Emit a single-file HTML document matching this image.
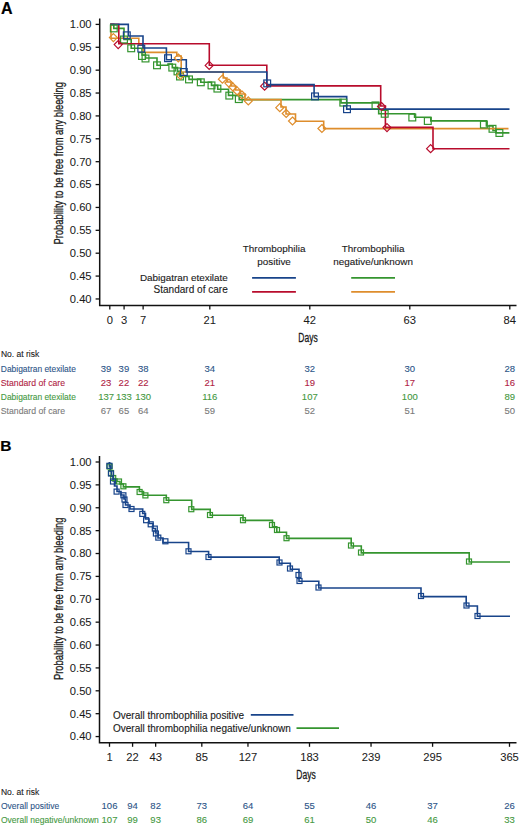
<!DOCTYPE html><html><head><meta charset="utf-8"><style>html,body{margin:0;padding:0;background:#fff;width:520px;height:825px;overflow:hidden}svg{display:block}text{font-family:"Liberation Sans", sans-serif}</style></head><body>
<svg width="520" height="825" viewBox="0 0 520 825">
<rect width="520" height="825" fill="#fff"/>
<text transform="translate(0.90,13.60)" font-size="16" fill="#000" text-anchor="start" font-weight="bold" stroke="#000" stroke-width="0.2" >A</text>
<path d="M99.7,18.4 V305.6 H516.5" fill="none" stroke="#111" stroke-width="1.5"/>
<line x1="95.6" y1="24.40" x2="99.7" y2="24.40" stroke="#111" stroke-width="1.3"/>
<text transform="translate(91.60,28.30) scale(1.12,1)" font-size="10" fill="#1a1a1a" text-anchor="end" font-weight="normal" stroke="#1a1a1a" stroke-width="0.05" >1.00</text>
<line x1="95.6" y1="47.28" x2="99.7" y2="47.28" stroke="#111" stroke-width="1.3"/>
<text transform="translate(91.60,51.18) scale(1.12,1)" font-size="10" fill="#1a1a1a" text-anchor="end" font-weight="normal" stroke="#1a1a1a" stroke-width="0.05" >0.95</text>
<line x1="95.6" y1="70.16" x2="99.7" y2="70.16" stroke="#111" stroke-width="1.3"/>
<text transform="translate(91.60,74.06) scale(1.12,1)" font-size="10" fill="#1a1a1a" text-anchor="end" font-weight="normal" stroke="#1a1a1a" stroke-width="0.05" >0.90</text>
<line x1="95.6" y1="93.04" x2="99.7" y2="93.04" stroke="#111" stroke-width="1.3"/>
<text transform="translate(91.60,96.94) scale(1.12,1)" font-size="10" fill="#1a1a1a" text-anchor="end" font-weight="normal" stroke="#1a1a1a" stroke-width="0.05" >0.85</text>
<line x1="95.6" y1="115.92" x2="99.7" y2="115.92" stroke="#111" stroke-width="1.3"/>
<text transform="translate(91.60,119.82) scale(1.12,1)" font-size="10" fill="#1a1a1a" text-anchor="end" font-weight="normal" stroke="#1a1a1a" stroke-width="0.05" >0.80</text>
<line x1="95.6" y1="138.80" x2="99.7" y2="138.80" stroke="#111" stroke-width="1.3"/>
<text transform="translate(91.60,142.70) scale(1.12,1)" font-size="10" fill="#1a1a1a" text-anchor="end" font-weight="normal" stroke="#1a1a1a" stroke-width="0.05" >0.75</text>
<line x1="95.6" y1="161.68" x2="99.7" y2="161.68" stroke="#111" stroke-width="1.3"/>
<text transform="translate(91.60,165.58) scale(1.12,1)" font-size="10" fill="#1a1a1a" text-anchor="end" font-weight="normal" stroke="#1a1a1a" stroke-width="0.05" >0.70</text>
<line x1="95.6" y1="184.56" x2="99.7" y2="184.56" stroke="#111" stroke-width="1.3"/>
<text transform="translate(91.60,188.46) scale(1.12,1)" font-size="10" fill="#1a1a1a" text-anchor="end" font-weight="normal" stroke="#1a1a1a" stroke-width="0.05" >0.65</text>
<line x1="95.6" y1="207.44" x2="99.7" y2="207.44" stroke="#111" stroke-width="1.3"/>
<text transform="translate(91.60,211.34) scale(1.12,1)" font-size="10" fill="#1a1a1a" text-anchor="end" font-weight="normal" stroke="#1a1a1a" stroke-width="0.05" >0.60</text>
<line x1="95.6" y1="230.32" x2="99.7" y2="230.32" stroke="#111" stroke-width="1.3"/>
<text transform="translate(91.60,234.22) scale(1.12,1)" font-size="10" fill="#1a1a1a" text-anchor="end" font-weight="normal" stroke="#1a1a1a" stroke-width="0.05" >0.55</text>
<line x1="95.6" y1="253.20" x2="99.7" y2="253.20" stroke="#111" stroke-width="1.3"/>
<text transform="translate(91.60,257.10) scale(1.12,1)" font-size="10" fill="#1a1a1a" text-anchor="end" font-weight="normal" stroke="#1a1a1a" stroke-width="0.05" >0.50</text>
<line x1="95.6" y1="276.08" x2="99.7" y2="276.08" stroke="#111" stroke-width="1.3"/>
<text transform="translate(91.60,279.98) scale(1.12,1)" font-size="10" fill="#1a1a1a" text-anchor="end" font-weight="normal" stroke="#1a1a1a" stroke-width="0.05" >0.45</text>
<line x1="95.6" y1="298.96" x2="99.7" y2="298.96" stroke="#111" stroke-width="1.3"/>
<text transform="translate(91.60,302.86) scale(1.12,1)" font-size="10" fill="#1a1a1a" text-anchor="end" font-weight="normal" stroke="#1a1a1a" stroke-width="0.05" >0.40</text>
<line x1="109.80" y1="305.6" x2="109.80" y2="309.6" stroke="#111" stroke-width="1.3"/>
<text transform="translate(109.80,323.70) scale(1.12,1)" font-size="10" fill="#1a1a1a" text-anchor="middle" font-weight="normal" stroke="#1a1a1a" stroke-width="0.05" >0</text>
<line x1="124.09" y1="305.6" x2="124.09" y2="309.6" stroke="#111" stroke-width="1.3"/>
<text transform="translate(124.09,323.70) scale(1.12,1)" font-size="10" fill="#1a1a1a" text-anchor="middle" font-weight="normal" stroke="#1a1a1a" stroke-width="0.05" >3</text>
<line x1="143.13" y1="305.6" x2="143.13" y2="309.6" stroke="#111" stroke-width="1.3"/>
<text transform="translate(143.13,323.70) scale(1.12,1)" font-size="10" fill="#1a1a1a" text-anchor="middle" font-weight="normal" stroke="#1a1a1a" stroke-width="0.05" >7</text>
<line x1="209.80" y1="305.6" x2="209.80" y2="309.6" stroke="#111" stroke-width="1.3"/>
<text transform="translate(209.80,323.70) scale(1.12,1)" font-size="10" fill="#1a1a1a" text-anchor="middle" font-weight="normal" stroke="#1a1a1a" stroke-width="0.05" >21</text>
<line x1="309.80" y1="305.6" x2="309.80" y2="309.6" stroke="#111" stroke-width="1.3"/>
<text transform="translate(309.80,323.70) scale(1.12,1)" font-size="10" fill="#1a1a1a" text-anchor="middle" font-weight="normal" stroke="#1a1a1a" stroke-width="0.05" >42</text>
<line x1="409.80" y1="305.6" x2="409.80" y2="309.6" stroke="#111" stroke-width="1.3"/>
<text transform="translate(409.80,323.70) scale(1.12,1)" font-size="10" fill="#1a1a1a" text-anchor="middle" font-weight="normal" stroke="#1a1a1a" stroke-width="0.05" >63</text>
<line x1="509.80" y1="305.6" x2="509.80" y2="309.6" stroke="#111" stroke-width="1.3"/>
<text transform="translate(509.80,323.70) scale(1.12,1)" font-size="10" fill="#1a1a1a" text-anchor="middle" font-weight="normal" stroke="#1a1a1a" stroke-width="0.05" >84</text>
<text transform="translate(308.00,341.60)" font-size="12.5" fill="#1a1a1a" text-anchor="middle" font-weight="normal" textLength="19.40" lengthAdjust="spacingAndGlyphs" stroke="#1a1a1a" stroke-width="0.3" >Days</text>
<text transform="translate(62.80,244.40) rotate(-90)" font-size="12.5" fill="#1a1a1a" text-anchor="start" font-weight="normal" textLength="162.40" lengthAdjust="spacingAndGlyphs" stroke="#1a1a1a" stroke-width="0.3" >Probability to be free from any bleeding</text>
<text transform="translate(274.10,252.20)" font-size="9.9" fill="#1a1a1a" text-anchor="middle" font-weight="normal" stroke="#1a1a1a" stroke-width="0.12" >Thrombophilia</text>
<text transform="translate(274.10,264.50)" font-size="9.9" fill="#1a1a1a" text-anchor="middle" font-weight="normal" stroke="#1a1a1a" stroke-width="0.12" >positive</text>
<text transform="translate(373.10,252.20)" font-size="9.9" fill="#1a1a1a" text-anchor="middle" font-weight="normal" stroke="#1a1a1a" stroke-width="0.12" >Thrombophilia</text>
<text transform="translate(373.10,264.50)" font-size="9.9" fill="#1a1a1a" text-anchor="middle" font-weight="normal" stroke="#1a1a1a" stroke-width="0.12" >negative/unknown</text>
<text transform="translate(227.80,281.20)" font-size="9.9" fill="#1a1a1a" text-anchor="end" font-weight="normal" stroke="#1a1a1a" stroke-width="0.12" >Dabigatran etexilate</text>
<text transform="translate(227.80,292.50)" font-size="10.05" fill="#1a1a1a" text-anchor="end" font-weight="normal" stroke="#1a1a1a" stroke-width="0.12" >Standard of care</text>
<line x1="252.1" y1="277.8" x2="295.9" y2="277.8" stroke="#18448a" stroke-width="1.7"/>
<line x1="252.1" y1="291.8" x2="295.9" y2="291.8" stroke="#b80c2c" stroke-width="1.7"/>
<line x1="351.2" y1="277.9" x2="395.0" y2="277.9" stroke="#35952f" stroke-width="1.7"/>
<line x1="351.2" y1="291.9" x2="395.0" y2="291.9" stroke="#de8d2c" stroke-width="1.7"/>
<path d="M110.2,24.4 H113.8 V28.4 H124 V39.5 H131.2 V48.3 H142 V55 H145.5 V58 H157 V65.3 H168 V64 H172.3 V67.6 H177.5 V71.4 H180 V76.5 H189 V79.4 H200.8 V82.3 H211.5 V85.4 H217.7 V89.2 H228.5 V95.4 H239.2 V99.6 H341 V102.9 H378.7 V113.8 H414.6 V117.3 H430.8 V120.9 H486.4 V126 H493 V130.5 H496 V132.9 H509.4" fill="none" stroke="#35952f" stroke-width="1.6" stroke-linejoin="miter"/>
<path d="M110.2,24.4 H111 V38.3 H138.8 V45 H143.5 V52.4 H176.8 V56 H181.2 V72 H223.2 V78 H227 V82 H231 V86 H235.5 V90 H240 V94 H245 V99.6 H281 V107 H286 V114 H295.5 V121.3 H323.7 V128.6 H508.5" fill="none" stroke="#de8d2c" stroke-width="1.6" stroke-linejoin="miter"/>
<path d="M110.2,24.4 H118.8 V43.8 H209.3 V65.2 H266.8 V85.9 H380.7 V106 H385.4 V127.4 H433 V148.8 H509.5" fill="none" stroke="#b80c2c" stroke-width="1.6" stroke-linejoin="miter"/>
<path d="M110.2,24.4 H128.3 V36.0 H143.0 V48.0 H166.4 V59.8 H186.3 V72.0 H266.8 V84.6 H314.1 V96.6 H346.7 V109.1 H509.5" fill="none" stroke="#18448a" stroke-width="1.6" stroke-linejoin="miter"/>
<rect x="110.40" y="25.00" width="6.80" height="6.80" fill="none" stroke="#35952f" stroke-width="1.2"/>
<rect x="120.60" y="36.10" width="6.80" height="6.80" fill="none" stroke="#35952f" stroke-width="1.2"/>
<rect x="127.80" y="44.90" width="6.80" height="6.80" fill="none" stroke="#35952f" stroke-width="1.2"/>
<rect x="138.60" y="52.60" width="6.80" height="6.80" fill="none" stroke="#35952f" stroke-width="1.2"/>
<rect x="142.10" y="55.10" width="6.80" height="6.80" fill="none" stroke="#35952f" stroke-width="1.2"/>
<rect x="153.60" y="61.90" width="6.80" height="6.80" fill="none" stroke="#35952f" stroke-width="1.2"/>
<rect x="168.90" y="64.20" width="6.80" height="6.80" fill="none" stroke="#35952f" stroke-width="1.2"/>
<rect x="174.10" y="68.00" width="6.80" height="6.80" fill="none" stroke="#35952f" stroke-width="1.2"/>
<rect x="176.60" y="73.10" width="6.80" height="6.80" fill="none" stroke="#35952f" stroke-width="1.2"/>
<rect x="185.60" y="76.00" width="6.80" height="6.80" fill="none" stroke="#35952f" stroke-width="1.2"/>
<rect x="197.40" y="78.90" width="6.80" height="6.80" fill="none" stroke="#35952f" stroke-width="1.2"/>
<rect x="208.10" y="82.00" width="6.80" height="6.80" fill="none" stroke="#35952f" stroke-width="1.2"/>
<rect x="214.00" y="85.20" width="6.80" height="6.80" fill="none" stroke="#35952f" stroke-width="1.2"/>
<rect x="225.90" y="92.20" width="6.80" height="6.80" fill="none" stroke="#35952f" stroke-width="1.2"/>
<rect x="235.40" y="95.70" width="6.80" height="6.80" fill="none" stroke="#35952f" stroke-width="1.2"/>
<rect x="339.90" y="99.20" width="6.80" height="6.80" fill="none" stroke="#35952f" stroke-width="1.2"/>
<rect x="372.10" y="102.00" width="6.80" height="6.80" fill="none" stroke="#35952f" stroke-width="1.2"/>
<rect x="381.30" y="110.40" width="6.80" height="6.80" fill="none" stroke="#35952f" stroke-width="1.2"/>
<rect x="408.90" y="114.10" width="6.80" height="6.80" fill="none" stroke="#35952f" stroke-width="1.2"/>
<rect x="424.40" y="117.60" width="6.80" height="6.80" fill="none" stroke="#35952f" stroke-width="1.2"/>
<rect x="480.50" y="121.10" width="6.80" height="6.80" fill="none" stroke="#35952f" stroke-width="1.2"/>
<rect x="489.10" y="125.40" width="6.80" height="6.80" fill="none" stroke="#35952f" stroke-width="1.2"/>
<rect x="496.00" y="129.60" width="6.80" height="6.80" fill="none" stroke="#35952f" stroke-width="1.2"/>
<path d="M113.40,33.60 L117.40,37.60 L113.40,41.60 L109.40,37.60 Z" fill="none" stroke="#de8d2c" stroke-width="1.2"/>
<path d="M178.30,54.00 L182.30,58.00 L178.30,62.00 L174.30,58.00 Z" fill="none" stroke="#de8d2c" stroke-width="1.2"/>
<path d="M180.40,71.40 L184.40,75.40 L180.40,79.40 L176.40,75.40 Z" fill="none" stroke="#de8d2c" stroke-width="1.2"/>
<path d="M222.40,75.20 L226.40,79.20 L222.40,83.20 L218.40,79.20 Z" fill="none" stroke="#de8d2c" stroke-width="1.2"/>
<path d="M228.90,79.10 L232.90,83.10 L228.90,87.10 L224.90,83.10 Z" fill="none" stroke="#de8d2c" stroke-width="1.2"/>
<path d="M232.80,83.00 L236.80,87.00 L232.80,91.00 L228.80,87.00 Z" fill="none" stroke="#de8d2c" stroke-width="1.2"/>
<path d="M237.10,86.90 L241.10,90.90 L237.10,94.90 L233.10,90.90 Z" fill="none" stroke="#de8d2c" stroke-width="1.2"/>
<path d="M242.00,91.00 L246.00,95.00 L242.00,99.00 L238.00,95.00 Z" fill="none" stroke="#de8d2c" stroke-width="1.2"/>
<path d="M248.30,96.90 L252.30,100.90 L248.30,104.90 L244.30,100.90 Z" fill="none" stroke="#de8d2c" stroke-width="1.2"/>
<path d="M279.80,103.70 L283.80,107.70 L279.80,111.70 L275.80,107.70 Z" fill="none" stroke="#de8d2c" stroke-width="1.2"/>
<path d="M286.20,109.50 L290.20,113.50 L286.20,117.50 L282.20,113.50 Z" fill="none" stroke="#de8d2c" stroke-width="1.2"/>
<path d="M292.50,117.00 L296.50,121.00 L292.50,125.00 L288.50,121.00 Z" fill="none" stroke="#de8d2c" stroke-width="1.2"/>
<path d="M321.90,124.50 L325.90,128.50 L321.90,132.50 L317.90,128.50 Z" fill="none" stroke="#de8d2c" stroke-width="1.2"/>
<path d="M118.20,40.60 L122.20,44.60 L118.20,48.60 L114.20,44.60 Z" fill="none" stroke="#b80c2c" stroke-width="1.2"/>
<path d="M209.20,61.40 L213.20,65.40 L209.20,69.40 L205.20,65.40 Z" fill="none" stroke="#b80c2c" stroke-width="1.2"/>
<path d="M264.60,82.20 L268.60,86.20 L264.60,90.20 L260.60,86.20 Z" fill="none" stroke="#b80c2c" stroke-width="1.2"/>
<path d="M381.50,102.50 L385.50,106.50 L381.50,110.50 L377.50,106.50 Z" fill="none" stroke="#b80c2c" stroke-width="1.2"/>
<path d="M387.00,123.60 L391.00,127.60 L387.00,131.60 L383.00,127.60 Z" fill="none" stroke="#b80c2c" stroke-width="1.2"/>
<path d="M430.60,144.70 L434.60,148.70 L430.60,152.70 L426.60,148.70 Z" fill="none" stroke="#b80c2c" stroke-width="1.2"/>
<rect x="123.40" y="31.90" width="6.80" height="6.80" fill="none" stroke="#18448a" stroke-width="1.2"/>
<rect x="137.90" y="45.20" width="6.80" height="6.80" fill="none" stroke="#18448a" stroke-width="1.2"/>
<rect x="164.60" y="54.80" width="6.80" height="6.80" fill="none" stroke="#18448a" stroke-width="1.2"/>
<rect x="180.40" y="68.60" width="6.80" height="6.80" fill="none" stroke="#18448a" stroke-width="1.2"/>
<rect x="263.80" y="80.00" width="6.80" height="6.80" fill="none" stroke="#18448a" stroke-width="1.2"/>
<rect x="311.60" y="93.00" width="6.80" height="6.80" fill="none" stroke="#18448a" stroke-width="1.2"/>
<rect x="343.60" y="105.80" width="6.80" height="6.80" fill="none" stroke="#18448a" stroke-width="1.2"/>
<text transform="translate(0.90,357.10)" font-size="8.5" fill="#1a1a1a" text-anchor="start" font-weight="normal" stroke="#1a1a1a" stroke-width="0.1" >No. at risk</text>
<text transform="translate(0.80,371.50)" font-size="8.45" fill="#2d5588" text-anchor="start" font-weight="normal" stroke="#2d5588" stroke-width="0.1" >Dabigatran etexilate</text>
<text transform="translate(106.10,371.90) scale(1.12,1)" font-size="8.5" fill="#2d5588" text-anchor="middle" font-weight="normal" stroke="#2d5588" stroke-width="0.1" >39</text>
<text transform="translate(123.90,371.90) scale(1.12,1)" font-size="8.5" fill="#2d5588" text-anchor="middle" font-weight="normal" stroke="#2d5588" stroke-width="0.1" >39</text>
<text transform="translate(143.20,371.90) scale(1.12,1)" font-size="8.5" fill="#2d5588" text-anchor="middle" font-weight="normal" stroke="#2d5588" stroke-width="0.1" >38</text>
<text transform="translate(209.80,371.90) scale(1.12,1)" font-size="8.5" fill="#2d5588" text-anchor="middle" font-weight="normal" stroke="#2d5588" stroke-width="0.1" >34</text>
<text transform="translate(309.80,371.90) scale(1.12,1)" font-size="8.5" fill="#2d5588" text-anchor="middle" font-weight="normal" stroke="#2d5588" stroke-width="0.1" >32</text>
<text transform="translate(409.80,371.90) scale(1.12,1)" font-size="8.5" fill="#2d5588" text-anchor="middle" font-weight="normal" stroke="#2d5588" stroke-width="0.1" >30</text>
<text transform="translate(509.80,371.90) scale(1.12,1)" font-size="8.5" fill="#2d5588" text-anchor="middle" font-weight="normal" stroke="#2d5588" stroke-width="0.1" >28</text>
<text transform="translate(0.80,385.53)" font-size="8.7" fill="#b01e44" text-anchor="start" font-weight="normal" stroke="#b01e44" stroke-width="0.1" >Standard of care</text>
<text transform="translate(106.10,385.93) scale(1.12,1)" font-size="8.5" fill="#b01e44" text-anchor="middle" font-weight="normal" stroke="#b01e44" stroke-width="0.1" >23</text>
<text transform="translate(123.90,385.93) scale(1.12,1)" font-size="8.5" fill="#b01e44" text-anchor="middle" font-weight="normal" stroke="#b01e44" stroke-width="0.1" >22</text>
<text transform="translate(143.20,385.93) scale(1.12,1)" font-size="8.5" fill="#b01e44" text-anchor="middle" font-weight="normal" stroke="#b01e44" stroke-width="0.1" >22</text>
<text transform="translate(209.80,385.93) scale(1.12,1)" font-size="8.5" fill="#b01e44" text-anchor="middle" font-weight="normal" stroke="#b01e44" stroke-width="0.1" >21</text>
<text transform="translate(309.80,385.93) scale(1.12,1)" font-size="8.5" fill="#b01e44" text-anchor="middle" font-weight="normal" stroke="#b01e44" stroke-width="0.1" >19</text>
<text transform="translate(409.80,385.93) scale(1.12,1)" font-size="8.5" fill="#b01e44" text-anchor="middle" font-weight="normal" stroke="#b01e44" stroke-width="0.1" >17</text>
<text transform="translate(509.80,385.93) scale(1.12,1)" font-size="8.5" fill="#b01e44" text-anchor="middle" font-weight="normal" stroke="#b01e44" stroke-width="0.1" >16</text>
<text transform="translate(0.80,399.56)" font-size="8.45" fill="#45993f" text-anchor="start" font-weight="normal" stroke="#45993f" stroke-width="0.1" >Dabigatran etexilate</text>
<text transform="translate(106.10,399.96) scale(1.12,1)" font-size="8.5" fill="#45993f" text-anchor="middle" font-weight="normal" stroke="#45993f" stroke-width="0.1" >137</text>
<text transform="translate(123.90,399.96) scale(1.12,1)" font-size="8.5" fill="#45993f" text-anchor="middle" font-weight="normal" stroke="#45993f" stroke-width="0.1" >133</text>
<text transform="translate(143.20,399.96) scale(1.12,1)" font-size="8.5" fill="#45993f" text-anchor="middle" font-weight="normal" stroke="#45993f" stroke-width="0.1" >130</text>
<text transform="translate(209.80,399.96) scale(1.12,1)" font-size="8.5" fill="#45993f" text-anchor="middle" font-weight="normal" stroke="#45993f" stroke-width="0.1" >116</text>
<text transform="translate(309.80,399.96) scale(1.12,1)" font-size="8.5" fill="#45993f" text-anchor="middle" font-weight="normal" stroke="#45993f" stroke-width="0.1" >107</text>
<text transform="translate(409.80,399.96) scale(1.12,1)" font-size="8.5" fill="#45993f" text-anchor="middle" font-weight="normal" stroke="#45993f" stroke-width="0.1" >100</text>
<text transform="translate(509.80,399.96) scale(1.12,1)" font-size="8.5" fill="#45993f" text-anchor="middle" font-weight="normal" stroke="#45993f" stroke-width="0.1" >89</text>
<text transform="translate(0.80,413.59)" font-size="8.7" fill="#7a7a7a" text-anchor="start" font-weight="normal" stroke="#7a7a7a" stroke-width="0.1" >Standard of care</text>
<text transform="translate(106.10,413.99) scale(1.12,1)" font-size="8.5" fill="#7a7a7a" text-anchor="middle" font-weight="normal" stroke="#7a7a7a" stroke-width="0.1" >67</text>
<text transform="translate(123.90,413.99) scale(1.12,1)" font-size="8.5" fill="#7a7a7a" text-anchor="middle" font-weight="normal" stroke="#7a7a7a" stroke-width="0.1" >65</text>
<text transform="translate(143.20,413.99) scale(1.12,1)" font-size="8.5" fill="#7a7a7a" text-anchor="middle" font-weight="normal" stroke="#7a7a7a" stroke-width="0.1" >64</text>
<text transform="translate(209.80,413.99) scale(1.12,1)" font-size="8.5" fill="#7a7a7a" text-anchor="middle" font-weight="normal" stroke="#7a7a7a" stroke-width="0.1" >59</text>
<text transform="translate(309.80,413.99) scale(1.12,1)" font-size="8.5" fill="#7a7a7a" text-anchor="middle" font-weight="normal" stroke="#7a7a7a" stroke-width="0.1" >52</text>
<text transform="translate(409.80,413.99) scale(1.12,1)" font-size="8.5" fill="#7a7a7a" text-anchor="middle" font-weight="normal" stroke="#7a7a7a" stroke-width="0.1" >51</text>
<text transform="translate(509.80,413.99) scale(1.12,1)" font-size="8.5" fill="#7a7a7a" text-anchor="middle" font-weight="normal" stroke="#7a7a7a" stroke-width="0.1" >50</text>
<text transform="translate(0.30,450.70)" font-size="15.5" fill="#000" text-anchor="start" font-weight="bold" stroke="#000" stroke-width="0.2" >B</text>
<path d="M99.5,456.0 V742.8 H516.5" fill="none" stroke="#111" stroke-width="1.5"/>
<line x1="95.6" y1="462.00" x2="99.5" y2="462.00" stroke="#111" stroke-width="1.3"/>
<text transform="translate(91.60,465.90) scale(1.12,1)" font-size="10" fill="#1a1a1a" text-anchor="end" font-weight="normal" stroke="#1a1a1a" stroke-width="0.05" >1.00</text>
<line x1="95.6" y1="484.88" x2="99.5" y2="484.88" stroke="#111" stroke-width="1.3"/>
<text transform="translate(91.60,488.78) scale(1.12,1)" font-size="10" fill="#1a1a1a" text-anchor="end" font-weight="normal" stroke="#1a1a1a" stroke-width="0.05" >0.95</text>
<line x1="95.6" y1="507.76" x2="99.5" y2="507.76" stroke="#111" stroke-width="1.3"/>
<text transform="translate(91.60,511.66) scale(1.12,1)" font-size="10" fill="#1a1a1a" text-anchor="end" font-weight="normal" stroke="#1a1a1a" stroke-width="0.05" >0.90</text>
<line x1="95.6" y1="530.64" x2="99.5" y2="530.64" stroke="#111" stroke-width="1.3"/>
<text transform="translate(91.60,534.54) scale(1.12,1)" font-size="10" fill="#1a1a1a" text-anchor="end" font-weight="normal" stroke="#1a1a1a" stroke-width="0.05" >0.85</text>
<line x1="95.6" y1="553.52" x2="99.5" y2="553.52" stroke="#111" stroke-width="1.3"/>
<text transform="translate(91.60,557.42) scale(1.12,1)" font-size="10" fill="#1a1a1a" text-anchor="end" font-weight="normal" stroke="#1a1a1a" stroke-width="0.05" >0.80</text>
<line x1="95.6" y1="576.40" x2="99.5" y2="576.40" stroke="#111" stroke-width="1.3"/>
<text transform="translate(91.60,580.30) scale(1.12,1)" font-size="10" fill="#1a1a1a" text-anchor="end" font-weight="normal" stroke="#1a1a1a" stroke-width="0.05" >0.75</text>
<line x1="95.6" y1="599.28" x2="99.5" y2="599.28" stroke="#111" stroke-width="1.3"/>
<text transform="translate(91.60,603.18) scale(1.12,1)" font-size="10" fill="#1a1a1a" text-anchor="end" font-weight="normal" stroke="#1a1a1a" stroke-width="0.05" >0.70</text>
<line x1="95.6" y1="622.16" x2="99.5" y2="622.16" stroke="#111" stroke-width="1.3"/>
<text transform="translate(91.60,626.06) scale(1.12,1)" font-size="10" fill="#1a1a1a" text-anchor="end" font-weight="normal" stroke="#1a1a1a" stroke-width="0.05" >0.65</text>
<line x1="95.6" y1="645.04" x2="99.5" y2="645.04" stroke="#111" stroke-width="1.3"/>
<text transform="translate(91.60,648.94) scale(1.12,1)" font-size="10" fill="#1a1a1a" text-anchor="end" font-weight="normal" stroke="#1a1a1a" stroke-width="0.05" >0.60</text>
<line x1="95.6" y1="667.92" x2="99.5" y2="667.92" stroke="#111" stroke-width="1.3"/>
<text transform="translate(91.60,671.82) scale(1.12,1)" font-size="10" fill="#1a1a1a" text-anchor="end" font-weight="normal" stroke="#1a1a1a" stroke-width="0.05" >0.55</text>
<line x1="95.6" y1="690.80" x2="99.5" y2="690.80" stroke="#111" stroke-width="1.3"/>
<text transform="translate(91.60,694.70) scale(1.12,1)" font-size="10" fill="#1a1a1a" text-anchor="end" font-weight="normal" stroke="#1a1a1a" stroke-width="0.05" >0.50</text>
<line x1="95.6" y1="713.68" x2="99.5" y2="713.68" stroke="#111" stroke-width="1.3"/>
<text transform="translate(91.60,717.58) scale(1.12,1)" font-size="10" fill="#1a1a1a" text-anchor="end" font-weight="normal" stroke="#1a1a1a" stroke-width="0.05" >0.45</text>
<line x1="95.6" y1="736.56" x2="99.5" y2="736.56" stroke="#111" stroke-width="1.3"/>
<text transform="translate(91.60,740.46) scale(1.12,1)" font-size="10" fill="#1a1a1a" text-anchor="end" font-weight="normal" stroke="#1a1a1a" stroke-width="0.05" >0.40</text>
<line x1="109.50" y1="742.8" x2="109.50" y2="746.8" stroke="#111" stroke-width="1.3"/>
<text transform="translate(109.50,760.90) scale(1.12,1)" font-size="10" fill="#1a1a1a" text-anchor="middle" font-weight="normal" stroke="#1a1a1a" stroke-width="0.05" >1</text>
<line x1="132.58" y1="742.8" x2="132.58" y2="746.8" stroke="#111" stroke-width="1.3"/>
<text transform="translate(132.58,760.90) scale(1.12,1)" font-size="10" fill="#1a1a1a" text-anchor="middle" font-weight="normal" stroke="#1a1a1a" stroke-width="0.05" >22</text>
<line x1="155.65" y1="742.8" x2="155.65" y2="746.8" stroke="#111" stroke-width="1.3"/>
<text transform="translate(155.65,760.90) scale(1.12,1)" font-size="10" fill="#1a1a1a" text-anchor="middle" font-weight="normal" stroke="#1a1a1a" stroke-width="0.05" >43</text>
<line x1="201.81" y1="742.8" x2="201.81" y2="746.8" stroke="#111" stroke-width="1.3"/>
<text transform="translate(201.81,760.90) scale(1.12,1)" font-size="10" fill="#1a1a1a" text-anchor="middle" font-weight="normal" stroke="#1a1a1a" stroke-width="0.05" >85</text>
<line x1="247.96" y1="742.8" x2="247.96" y2="746.8" stroke="#111" stroke-width="1.3"/>
<text transform="translate(247.96,760.90) scale(1.12,1)" font-size="10" fill="#1a1a1a" text-anchor="middle" font-weight="normal" stroke="#1a1a1a" stroke-width="0.05" >127</text>
<line x1="309.50" y1="742.8" x2="309.50" y2="746.8" stroke="#111" stroke-width="1.3"/>
<text transform="translate(309.50,760.90) scale(1.12,1)" font-size="10" fill="#1a1a1a" text-anchor="middle" font-weight="normal" stroke="#1a1a1a" stroke-width="0.05" >183</text>
<line x1="371.04" y1="742.8" x2="371.04" y2="746.8" stroke="#111" stroke-width="1.3"/>
<text transform="translate(371.04,760.90) scale(1.12,1)" font-size="10" fill="#1a1a1a" text-anchor="middle" font-weight="normal" stroke="#1a1a1a" stroke-width="0.05" >239</text>
<line x1="432.58" y1="742.8" x2="432.58" y2="746.8" stroke="#111" stroke-width="1.3"/>
<text transform="translate(432.58,760.90) scale(1.12,1)" font-size="10" fill="#1a1a1a" text-anchor="middle" font-weight="normal" stroke="#1a1a1a" stroke-width="0.05" >295</text>
<line x1="509.50" y1="742.8" x2="509.50" y2="746.8" stroke="#111" stroke-width="1.3"/>
<text transform="translate(509.50,760.90) scale(1.12,1)" font-size="10" fill="#1a1a1a" text-anchor="middle" font-weight="normal" stroke="#1a1a1a" stroke-width="0.05" >365</text>
<text transform="translate(306.00,778.60)" font-size="12.5" fill="#1a1a1a" text-anchor="middle" font-weight="normal" textLength="19.40" lengthAdjust="spacingAndGlyphs" stroke="#1a1a1a" stroke-width="0.3" >Days</text>
<text transform="translate(62.80,680.00) rotate(-90)" font-size="12.5" fill="#1a1a1a" text-anchor="start" font-weight="normal" textLength="162.40" lengthAdjust="spacingAndGlyphs" stroke="#1a1a1a" stroke-width="0.3" >Probability to be free from any bleeding</text>
<text transform="translate(113.00,718.50)" font-size="10" fill="#1a1a1a" text-anchor="start" font-weight="normal" stroke="#1a1a1a" stroke-width="0.12" >Overall thrombophilia positive</text>
<text transform="translate(113.00,731.80)" font-size="10" fill="#1a1a1a" text-anchor="start" font-weight="normal" stroke="#1a1a1a" stroke-width="0.12" >Overall thrombophilia negative/unknown</text>
<line x1="250.8" y1="714.9" x2="293.5" y2="714.9" stroke="#18448a" stroke-width="1.7"/>
<line x1="296.5" y1="728.1" x2="339.0" y2="728.1" stroke="#35952f" stroke-width="1.7"/>
<path d="M109.5,462 V466 H110.2 V471 H111.3 V476 H113.5 V479 H117 V481.5 H120 V484 H123.4 V486.9 H139.4 V491.5 H143.5 V495.3 H166.3 V500.2 H191.7 V509.4 H210.2 V515.2 H243 V520.4 H272.5 V526.8 H276.8 V532.2 H286.5 V538.4 H351.2 V546 H361.3 V552.9 H469.2 V562 H510" fill="none" stroke="#35952f" stroke-width="1.6" stroke-linejoin="miter"/>
<path d="M109.5,462 V466 H110.5 V471 H111.5 V476 H113 V481 H114.5 V486 H117 V491.5 H121 V495 H124 V499 H125.5 V505 H130 V509 H142.7 V513.5 H145.5 V519 H149 V523.5 H153 V528.5 H155.5 V533 H158 V538 H163 V542.5 H188.6 V551.5 H208.6 V557.1 H279.2 V563.2 H290.3 V569.2 H299 V581.3 H318.8 V588 H421 V596.6 H466.2 V606 H477.4 V616.2 H510" fill="none" stroke="#18448a" stroke-width="1.6" stroke-linejoin="miter"/>
<rect x="107.10" y="464.00" width="5.00" height="5.00" fill="none" stroke="#35952f" stroke-width="1.2"/>
<rect x="108.50" y="470.50" width="5.00" height="5.00" fill="none" stroke="#35952f" stroke-width="1.2"/>
<rect x="110.70" y="475.50" width="5.00" height="5.00" fill="none" stroke="#35952f" stroke-width="1.2"/>
<rect x="116.50" y="479.00" width="5.00" height="5.00" fill="none" stroke="#35952f" stroke-width="1.2"/>
<rect x="120.90" y="483.80" width="5.00" height="5.00" fill="none" stroke="#35952f" stroke-width="1.2"/>
<rect x="137.10" y="489.50" width="5.00" height="5.00" fill="none" stroke="#35952f" stroke-width="1.2"/>
<rect x="142.90" y="492.90" width="5.00" height="5.00" fill="none" stroke="#35952f" stroke-width="1.2"/>
<rect x="163.80" y="497.70" width="5.00" height="5.00" fill="none" stroke="#35952f" stroke-width="1.2"/>
<rect x="188.80" y="506.70" width="5.00" height="5.00" fill="none" stroke="#35952f" stroke-width="1.2"/>
<rect x="207.50" y="512.50" width="5.00" height="5.00" fill="none" stroke="#35952f" stroke-width="1.2"/>
<rect x="240.50" y="517.70" width="5.00" height="5.00" fill="none" stroke="#35952f" stroke-width="1.2"/>
<rect x="269.50" y="522.50" width="5.00" height="5.00" fill="none" stroke="#35952f" stroke-width="1.2"/>
<rect x="274.50" y="527.50" width="5.00" height="5.00" fill="none" stroke="#35952f" stroke-width="1.2"/>
<rect x="284.00" y="535.70" width="5.00" height="5.00" fill="none" stroke="#35952f" stroke-width="1.2"/>
<rect x="348.50" y="543.00" width="5.00" height="5.00" fill="none" stroke="#35952f" stroke-width="1.2"/>
<rect x="358.50" y="550.00" width="5.00" height="5.00" fill="none" stroke="#35952f" stroke-width="1.2"/>
<rect x="466.50" y="559.00" width="5.00" height="5.00" fill="none" stroke="#35952f" stroke-width="1.2"/>
<rect x="106.90" y="463.30" width="5.00" height="5.00" fill="none" stroke="#18448a" stroke-width="1.2"/>
<rect x="108.50" y="471.00" width="5.00" height="5.00" fill="none" stroke="#18448a" stroke-width="1.2"/>
<rect x="110.50" y="479.00" width="5.00" height="5.00" fill="none" stroke="#18448a" stroke-width="1.2"/>
<rect x="114.10" y="489.10" width="5.00" height="5.00" fill="none" stroke="#18448a" stroke-width="1.2"/>
<rect x="120.90" y="492.80" width="5.00" height="5.00" fill="none" stroke="#18448a" stroke-width="1.2"/>
<rect x="122.00" y="497.00" width="5.00" height="5.00" fill="none" stroke="#18448a" stroke-width="1.2"/>
<rect x="123.00" y="502.50" width="5.00" height="5.00" fill="none" stroke="#18448a" stroke-width="1.2"/>
<rect x="129.00" y="506.50" width="5.00" height="5.00" fill="none" stroke="#18448a" stroke-width="1.2"/>
<rect x="139.80" y="511.40" width="5.00" height="5.00" fill="none" stroke="#18448a" stroke-width="1.2"/>
<rect x="143.60" y="517.70" width="5.00" height="5.00" fill="none" stroke="#18448a" stroke-width="1.2"/>
<rect x="148.20" y="521.80" width="5.00" height="5.00" fill="none" stroke="#18448a" stroke-width="1.2"/>
<rect x="152.30" y="526.10" width="5.00" height="5.00" fill="none" stroke="#18448a" stroke-width="1.2"/>
<rect x="153.40" y="531.00" width="5.00" height="5.00" fill="none" stroke="#18448a" stroke-width="1.2"/>
<rect x="155.80" y="535.10" width="5.00" height="5.00" fill="none" stroke="#18448a" stroke-width="1.2"/>
<rect x="162.90" y="538.80" width="5.00" height="5.00" fill="none" stroke="#18448a" stroke-width="1.2"/>
<rect x="186.00" y="548.80" width="5.00" height="5.00" fill="none" stroke="#18448a" stroke-width="1.2"/>
<rect x="206.00" y="554.50" width="5.00" height="5.00" fill="none" stroke="#18448a" stroke-width="1.2"/>
<rect x="277.00" y="560.00" width="5.00" height="5.00" fill="none" stroke="#18448a" stroke-width="1.2"/>
<rect x="287.50" y="566.00" width="5.00" height="5.00" fill="none" stroke="#18448a" stroke-width="1.2"/>
<rect x="296.00" y="572.50" width="5.00" height="5.00" fill="none" stroke="#18448a" stroke-width="1.2"/>
<rect x="297.00" y="578.50" width="5.00" height="5.00" fill="none" stroke="#18448a" stroke-width="1.2"/>
<rect x="316.00" y="585.00" width="5.00" height="5.00" fill="none" stroke="#18448a" stroke-width="1.2"/>
<rect x="418.50" y="593.50" width="5.00" height="5.00" fill="none" stroke="#18448a" stroke-width="1.2"/>
<rect x="464.00" y="603.00" width="5.00" height="5.00" fill="none" stroke="#18448a" stroke-width="1.2"/>
<rect x="475.00" y="613.50" width="5.00" height="5.00" fill="none" stroke="#18448a" stroke-width="1.2"/>
<text transform="translate(0.90,794.60)" font-size="8.5" fill="#1a1a1a" text-anchor="start" font-weight="normal" stroke="#1a1a1a" stroke-width="0.1" >No. at risk</text>
<text transform="translate(1.00,808.70)" font-size="8.5" fill="#2d5588" text-anchor="start" font-weight="normal" stroke="#2d5588" stroke-width="0.1" >Overall positive</text>
<text transform="translate(109.50,808.70) scale(1.12,1)" font-size="8.5" fill="#2d5588" text-anchor="middle" font-weight="normal" stroke="#2d5588" stroke-width="0.1" >106</text>
<text transform="translate(132.58,808.70) scale(1.12,1)" font-size="8.5" fill="#2d5588" text-anchor="middle" font-weight="normal" stroke="#2d5588" stroke-width="0.1" >94</text>
<text transform="translate(155.65,808.70) scale(1.12,1)" font-size="8.5" fill="#2d5588" text-anchor="middle" font-weight="normal" stroke="#2d5588" stroke-width="0.1" >82</text>
<text transform="translate(201.81,808.70) scale(1.12,1)" font-size="8.5" fill="#2d5588" text-anchor="middle" font-weight="normal" stroke="#2d5588" stroke-width="0.1" >73</text>
<text transform="translate(247.96,808.70) scale(1.12,1)" font-size="8.5" fill="#2d5588" text-anchor="middle" font-weight="normal" stroke="#2d5588" stroke-width="0.1" >64</text>
<text transform="translate(309.50,808.70) scale(1.12,1)" font-size="8.5" fill="#2d5588" text-anchor="middle" font-weight="normal" stroke="#2d5588" stroke-width="0.1" >55</text>
<text transform="translate(371.04,808.70) scale(1.12,1)" font-size="8.5" fill="#2d5588" text-anchor="middle" font-weight="normal" stroke="#2d5588" stroke-width="0.1" >46</text>
<text transform="translate(432.58,808.70) scale(1.12,1)" font-size="8.5" fill="#2d5588" text-anchor="middle" font-weight="normal" stroke="#2d5588" stroke-width="0.1" >37</text>
<text transform="translate(509.50,808.70) scale(1.12,1)" font-size="8.5" fill="#2d5588" text-anchor="middle" font-weight="normal" stroke="#2d5588" stroke-width="0.1" >26</text>
<text transform="translate(1.00,822.55)" font-size="8.5" fill="#45993f" text-anchor="start" font-weight="normal" stroke="#45993f" stroke-width="0.1" >Overall negative/unknown</text>
<text transform="translate(109.50,822.55) scale(1.12,1)" font-size="8.5" fill="#45993f" text-anchor="middle" font-weight="normal" stroke="#45993f" stroke-width="0.1" >107</text>
<text transform="translate(132.58,822.55) scale(1.12,1)" font-size="8.5" fill="#45993f" text-anchor="middle" font-weight="normal" stroke="#45993f" stroke-width="0.1" >99</text>
<text transform="translate(155.65,822.55) scale(1.12,1)" font-size="8.5" fill="#45993f" text-anchor="middle" font-weight="normal" stroke="#45993f" stroke-width="0.1" >93</text>
<text transform="translate(201.81,822.55) scale(1.12,1)" font-size="8.5" fill="#45993f" text-anchor="middle" font-weight="normal" stroke="#45993f" stroke-width="0.1" >86</text>
<text transform="translate(247.96,822.55) scale(1.12,1)" font-size="8.5" fill="#45993f" text-anchor="middle" font-weight="normal" stroke="#45993f" stroke-width="0.1" >69</text>
<text transform="translate(309.50,822.55) scale(1.12,1)" font-size="8.5" fill="#45993f" text-anchor="middle" font-weight="normal" stroke="#45993f" stroke-width="0.1" >61</text>
<text transform="translate(371.04,822.55) scale(1.12,1)" font-size="8.5" fill="#45993f" text-anchor="middle" font-weight="normal" stroke="#45993f" stroke-width="0.1" >50</text>
<text transform="translate(432.58,822.55) scale(1.12,1)" font-size="8.5" fill="#45993f" text-anchor="middle" font-weight="normal" stroke="#45993f" stroke-width="0.1" >46</text>
<text transform="translate(509.50,822.55) scale(1.12,1)" font-size="8.5" fill="#45993f" text-anchor="middle" font-weight="normal" stroke="#45993f" stroke-width="0.1" >33</text>
</svg></body></html>
